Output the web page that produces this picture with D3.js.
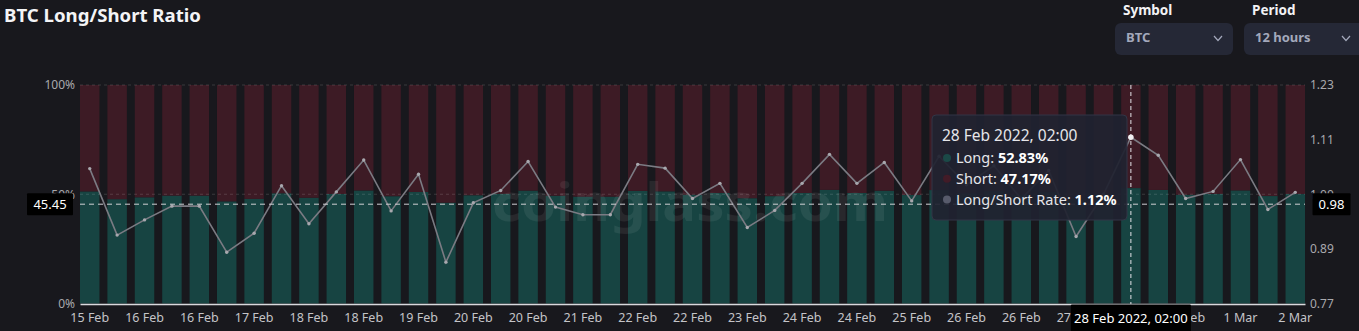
<!DOCTYPE html>
<html><head><meta charset="utf-8">
<script src="https://cdn.jsdelivr.net/npm/d3@7/dist/d3.min.js"></script>
<style>
html,body{margin:0;padding:0;background:#18181d;overflow:hidden;}
svg{display:block;}
</style></head><body>
<svg id="c" width="1359" height="331"></svg>
<script>
// ---------------- data ----------------
const categories = [
  "15 Feb","15 Feb","16 Feb","16 Feb","16 Feb","17 Feb","17 Feb","17 Feb","18 Feb","18 Feb",
  "18 Feb","19 Feb","19 Feb","19 Feb","20 Feb","20 Feb","20 Feb","21 Feb","21 Feb","21 Feb",
  "22 Feb","22 Feb","22 Feb","23 Feb","23 Feb","23 Feb","24 Feb","24 Feb","24 Feb","25 Feb",
  "25 Feb","25 Feb","26 Feb","26 Feb","26 Feb","27 Feb","27 Feb","27 Feb","28 Feb","28 Feb",
  "28 Feb","1 Mar","1 Mar","2 Mar","2 Mar"
];
const longPct = [
  51.31,47.75,48.61,49.37,49.37,46.75,47.86,50.45,48.40,50.12,
  51.74,49.11,51.03,46.15,49.55,50.20,51.67,49.32,48.90,48.90,
  51.53,51.34,49.77,50.57,48.19,49.14,50.57,52.02,50.57,51.62,
  49.65,51.92,50.50,51.46,49.75,51.22,47.67,50.00,52.83,51.97,
  49.77,50.15,51.76,49.19,50.10
];
const shortPct = [
  48.69,52.25,51.39,50.63,50.63,53.25,52.14,49.55,51.60,49.88,
  48.26,50.89,48.97,53.85,50.45,49.80,48.33,50.68,51.10,51.10,
  48.47,48.66,50.23,49.43,51.81,50.86,49.43,47.98,49.43,48.38,
  50.35,48.08,49.50,48.54,50.25,48.78,52.33,50.00,47.17,48.03,
  50.23,49.85,48.24,50.81,49.90
];
const ratio = [
  1.054,0.914,0.946,0.975,0.975,0.878,0.918,1.018,0.938,1.005,
  1.072,0.965,1.042,0.857,0.982,1.008,1.069,0.973,0.957,0.957,
  1.063,1.055,0.991,1.023,0.930,0.966,1.023,1.084,1.023,1.067,
  0.986,1.080,1.020,1.060,0.990,1.050,0.911,1.000,1.120,1.082,
  0.991,1.006,1.073,0.968,1.004
];
const leftTicks = [0, 50, 100];
const leftTickLabels = ["0%", "50%", "100%"];
const rightTicks = [0.77, 0.885, 1.00, 1.115, 1.23];
const rightTickLabels = ["0.77", "0.89", "1.00", "1.11", "1.23"];
const ratioDomain = [0.77, 1.23];
const selectedIndex = 38;
const selectedLabel = "28 Feb 2022, 02:00";
const pointerPct = 45.45;
const seriesNames = ["Long", "Short", "Long/Short Rate"];

// ---------------- layout ----------------
const W = 1359, H = 331;
const L = 80, R = 1305, T = 85, B = 303.5;
const C = {
  bg: "#18181d", long: "#174442", short: "#3d1b25", line: "#7b7b83",
  axisText: "#a9a9ad", xText: "#c4c4c8"
};
const font = "'Noto Sans', 'Open Sans', sans-serif";

const svg = d3.select("#c");
svg.append("rect").attr("width", W).attr("height", H).attr("fill", C.bg);

const idx = categories.map((_, i) => i);
const x = d3.scaleBand().domain(idx).range([L, R]).paddingInner(0.29).paddingOuter(0);
const yP = d3.scaleLinear().domain([0, 100]).range([B, T]);
const yR = d3.scaleLinear().domain(ratioDomain).range([B, T]);

// title
svg.append("text").attr("x", 4).attr("y", 22).text("BTC Long/Short Ratio")
  .attr("fill", "#f4f4f6").attr("font-family", font).attr("font-weight", 700)
  .attr("font-size", 18.5).attr("textLength", 197).attr("lengthAdjust", "spacingAndGlyphs");

// controls
const controls = [
  {label: "Symbol", value: "BTC", x: 1115, w: 118},
  {label: "Period", value: "12 hours", x: 1244, w: 125}
];
controls.forEach(c => {
  svg.append("text").attr("x", c.x + 8).attr("y", 15).text(c.label)
    .attr("fill", "#f2f2f4").attr("font-family", font).attr("font-weight", 700).attr("font-size", 13.5);
  svg.append("rect").attr("x", c.x).attr("y", 23).attr("width", c.w).attr("height", 32)
    .attr("rx", 6).attr("fill", "#252836");
  svg.append("text").attr("x", c.x + 11).attr("y", 42).text(c.value)
    .attr("fill", "#a3a8bb").attr("font-family", font).attr("font-weight", 700).attr("font-size", 13);
  const cx = c.x + (c.label === "Symbol" ? 103 : 102);
  svg.append("path").attr("d", `M${cx-4},36 L${cx},40.5 L${cx+4},36`)
    .attr("fill", "none").attr("stroke", "#a3a8bb").attr("stroke-width", 1.2);
});

// bars
const rows = idx.map(i => ({i, long: longPct[i], short: shortPct[i]}));
const stack = d3.stack().keys(["long", "short"])(rows);
const colors = {long: C.long, short: C.short};
svg.append("g").selectAll("g").data(stack).join("g").attr("fill", d => colors[d.key])
  .selectAll("rect").data(d => d).join("rect")
  .attr("x", d => x(d.data.i)).attr("width", x.bandwidth())
  .attr("y", d => yP(d[1])).attr("height", d => yP(d[0]) - yP(d[1]));

// watermark
svg.append("text").attr("x", 690).attr("y", 221).attr("text-anchor", "middle")
  .text("coinglass.com").attr("fill", "#ffffff").attr("fill-opacity", 0.07)
  .attr("font-family", font).attr("font-weight", 700).attr("font-size", 52)
  .attr("textLength", 396).attr("lengthAdjust", "spacingAndGlyphs");

// grid lines
svg.append("g").selectAll("line").data([50, 100]).join("line")
  .attr("x1", L).attr("x2", R).attr("y1", d => yP(d)).attr("y2", d => yP(d))
  .attr("stroke", "#ffffff").attr("stroke-opacity", 0.14).attr("stroke-dasharray", "3,3");

// axes (the label under the pointer tag is hidden by it, as in the reference)
const xAxis = d3.axisBottom(x).tickValues(idx.filter(i => i % 2 === 0 && i !== selectedIndex))
  .tickFormat(i => categories[i]).tickSize(0).tickPadding(9);
const gx = svg.append("g").attr("transform", `translate(0,${B + 0.5})`).call(xAxis);
gx.select(".domain").attr("stroke", "#d9d9dd").attr("stroke-width", 1.3);
gx.selectAll("text").attr("fill", C.xText).attr("font-family", font).attr("font-size", 12.5);

const gl = svg.append("g").attr("transform", `translate(${L},0)`)
  .call(d3.axisLeft(yP).tickValues(leftTicks).tickFormat((d, i) => leftTickLabels[i]).tickSize(0).tickPadding(5));
gl.select(".domain").remove();
gl.selectAll("text").attr("fill", C.axisText).attr("font-family", font).attr("font-size", 12);

const gr = svg.append("g").attr("transform", `translate(${R},0)`)
  .call(d3.axisRight(yR).tickValues(rightTicks).tickFormat((d, i) => rightTickLabels[i]).tickSize(0).tickPadding(5));
gr.select(".domain").remove();
gr.selectAll("text").attr("fill", C.axisText).attr("font-family", font).attr("font-size", 12);

// ratio line
const cx = i => x(i) + x.bandwidth() / 2;
svg.append("path").datum(idx)
  .attr("d", d3.line().x(i => cx(i)).y(i => yR(ratio[i])))
  .attr("fill", "none").attr("stroke", C.line).attr("stroke-width", 1.6);
svg.append("g").selectAll("circle").data(idx).join("circle")
  .attr("cx", i => cx(i)).attr("cy", i => yR(ratio[i])).attr("r", 1.7)
  .attr("fill", "#a8a8ae");

// crosshair
const selX = cx(selectedIndex);
const pY = yP(pointerPct);
svg.append("line").attr("x1", L).attr("x2", R).attr("y1", pY).attr("y2", pY)
  .attr("stroke", "#d0d0d4").attr("stroke-dasharray", "5,4").attr("stroke-width", 1);
svg.append("line").attr("x1", selX).attr("x2", selX).attr("y1", T).attr("y2", B + 1)
  .attr("stroke", "#e4e4e8").attr("stroke-dasharray", "4,3").attr("stroke-width", 1);
svg.append("circle").attr("cx", selX).attr("cy", yR(ratio[selectedIndex])).attr("r", 2.8)
  .attr("fill", "#f0f0f2");

// pointer labels
function tag(xc, yc, w, h, txt) {
  svg.append("rect").attr("x", xc - w / 2).attr("y", yc - h / 2).attr("width", w).attr("height", h)
    .attr("fill", "#000000").attr("rx", 1);
  svg.append("text").attr("x", xc).attr("y", yc + 4.5).attr("text-anchor", "middle").text(txt)
    .attr("fill", "#ffffff").attr("font-family", font).attr("font-size", 13);
}
tag(50, pY, 46, 22, pointerPct.toFixed(2));
tag(1331.5, pY, 38, 22, yR.invert(pY).toFixed(2));
tag(selX, 318, 120, 27, selectedLabel);

// tooltip
const tt = svg.append("g").attr("transform", "translate(932,115)");
tt.append("rect").attr("width", 195).attr("height", 105).attr("rx", 4)
  .attr("fill", "#202230").attr("fill-opacity", 0.93).attr("stroke", "#323546");
tt.append("text").attr("x", 10).attr("y", 26).text(selectedLabel)
  .attr("fill", "#e6e6ea").attr("font-family", font).attr("font-size", 15.5);
const ttRows = [
  {name: seriesNames[0], val: longPct[selectedIndex].toFixed(2) + "%", color: "#1b4947"},
  {name: seriesNames[1], val: shortPct[selectedIndex].toFixed(2) + "%", color: "#421b27"},
  {name: seriesNames[2], val: ratio[selectedIndex].toFixed(2) + "%", color: "#575b6b"}
];
ttRows.forEach((r, k) => {
  const yy = 48 + k * 20.8;
  tt.append("circle").attr("cx", 15).attr("cy", yy - 5).attr("r", 4).attr("fill", r.color);
  const t = tt.append("text").attr("x", 24).attr("y", yy)
    .attr("fill", "#e6e6ea").attr("font-family", font).attr("font-size", 14.5);
  t.append("tspan").text(r.name + ": ");
  t.append("tspan").text(r.val).attr("font-weight", 700).attr("fill", "#ffffff");
});
</script>
</body></html>
